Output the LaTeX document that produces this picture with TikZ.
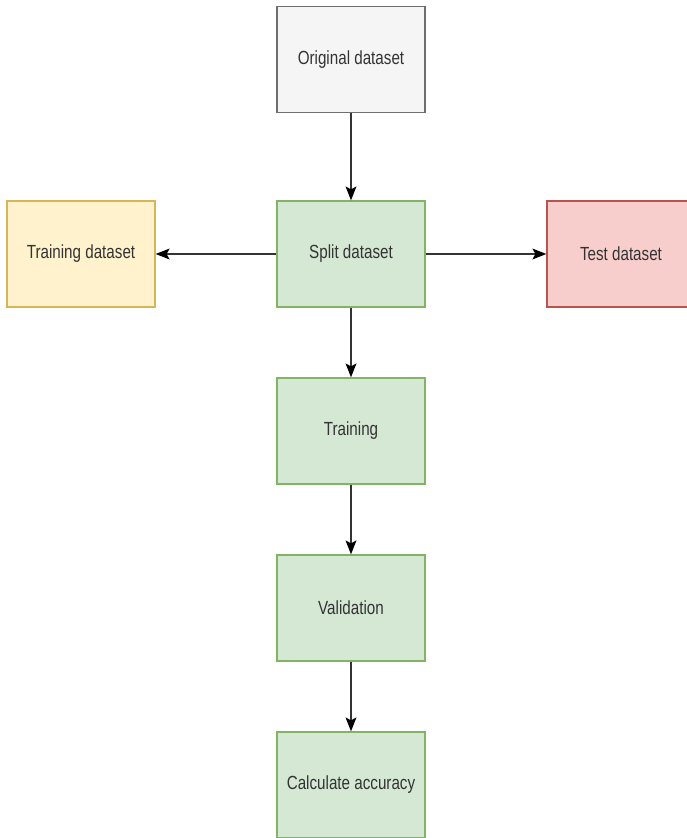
\documentclass[tikz,border=0pt]{standalone}
\usepackage{fontspec}
\usepackage{graphicx}
\setmainfont{Liberation Sans}
\usepackage{tikz}
\usetikzlibrary{arrows.meta, positioning}
\definecolor{origfill}{RGB}{245, 245, 245}
\definecolor{origline}{RGB}{110, 110, 110}
\definecolor{stepfill}{RGB}{213, 232, 212}
\definecolor{stepline}{RGB}{130, 179, 102}
\definecolor{trainfill}{RGB}{255, 242, 204}
\definecolor{trainline}{RGB}{214, 182, 86}
\definecolor{testfill}{RGB}{248, 206, 204}
\definecolor{testline}{RGB}{184, 84, 80}
\definecolor{flowtext}{RGB}{51, 51, 51}
\newcommand{\boxlabel}[1]{\scalebox{0.8}[1]{#1}}

\begin{document}
\begin{tikzpicture}[x=1pt, y=-1pt,
    flowbox/.style={rectangle, line width=1.3pt, minimum width=148pt, minimum height=106pt,
                    inner sep=0pt, font=\fontsize{19}{22}\selectfont, text=flowtext},
    greenbox/.style={flowbox, fill=stepfill, draw=stepline},
    flowline/.style={draw=flowtext, line width=1.3pt,
                     -{Stealth[length=14pt, width=11pt, inset=3pt, fill=black, line width=0pt]}}]
    \useasboundingbox (0,0) rectangle (687,838);
    \clip (0,0) rectangle (687,838);
    % main column
    \node[flowbox, fill=origfill, draw=origline] (original) at (351,59.5) {\boxlabel{Original dataset}};
    \node[greenbox] (split) at (351,254) {\boxlabel{Split dataset}};
    \node[greenbox] (training) at (351,431) {\boxlabel{Training}};
    \node[greenbox] (validation) at (351,608) {\boxlabel{Validation}};
    \node[greenbox] (accuracy) at (351,785) {\boxlabel{Calculate accuracy}};
    % side outputs
    \node[flowbox, fill=trainfill, draw=trainline] (trainset) at (81,254) {\boxlabel{Training dataset}};
    \node[flowbox, fill=testfill, draw=testline] (testset) at (621,254) {\boxlabel{Test dataset}};

    \draw[flowline] (original) -- (split);
    \draw[flowline] (split) -- (trainset);
    \draw[flowline] (split) -- (testset);
    \draw[flowline] (split) -- (training);
    \draw[flowline] (training) -- (validation);
    \draw[flowline] (validation) -- (accuracy);
\end{tikzpicture}
\end{document}
